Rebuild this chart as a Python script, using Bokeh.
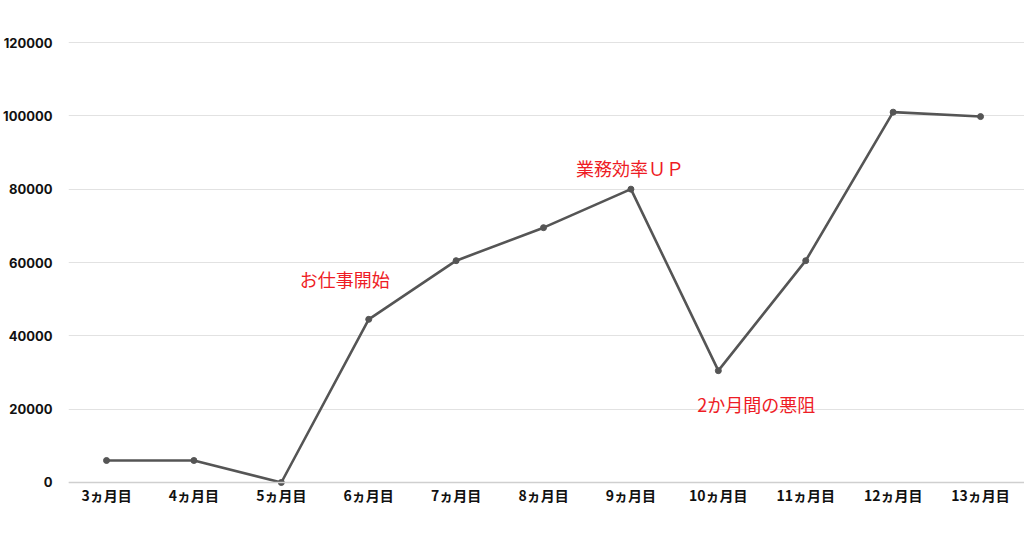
from bokeh.plotting import figure
from bokeh.models import Range1d, FixedTicker, Span, ColumnDataSource
from bokeh.embed import file_html
from bokeh.resources import INLINE
from bokeh.core.properties import value

months = ["3ヵ月目", "4ヵ月目", "5ヵ月目", "6ヵ月目", "7ヵ月目", "8ヵ月目",
          "9ヵ月目", "10ヵ月目", "11ヵ月目", "12ヵ月目", "13ヵ月目"]
values = [6000, 6000, 0, 44500, 60500, 69500, 80000, 30500, 60500, 101000, 99800]
y_ticks = [0, 20000, 40000, 60000, 80000, 100000, 120000]

notes = ["お仕事開始", "業務効率ＵＰ", "2か月間の悪阻"]
note_idx = [3, 6, 7]
note_dx = [-24, -1, 38]
note_dy = [40, 21, -33]

xs = list(range(len(months)))

p = figure(width=1024, height=538, output_backend="svg", toolbar_location=None,
           x_range=Range1d(-0.435, 10.503), y_range=Range1d(-1091, 123273),
           min_border_left=62, min_border_right=0, min_border_top=30, min_border_bottom=52)
p.outline_line_color = None
p.background_fill_color = "white"
p.border_fill_color = "white"

p.xaxis.ticker = FixedTicker(ticks=xs)
p.xaxis.major_label_overrides = {i: m for i, m in enumerate(months)}
p.xaxis.axis_line_color = None
p.xaxis.major_tick_line_color = None
p.xaxis.minor_tick_line_color = None
p.xaxis.major_label_standoff = -8
p.xaxis.major_label_text_font = "Noto Sans CJK JP"
p.xaxis.major_label_text_font_style = "bold"
p.xaxis.major_label_text_font_size = "14px"
p.xaxis.major_label_text_color = "#111111"
p.xgrid.grid_line_color = None

p.yaxis.ticker = FixedTicker(ticks=y_ticks)
p.yaxis.axis_line_color = None
p.yaxis.major_tick_line_color = None
p.yaxis.minor_tick_line_color = None
p.yaxis.major_label_standoff = 10
p.yaxis.major_label_text_font = "Inter"
p.yaxis.major_label_text_font_style = "bold"
p.yaxis.major_label_text_font_size = "13px"
p.yaxis.major_label_text_color = "#111111"
p.yaxis.formatter.use_scientific = False
p.ygrid.grid_line_color = "#e2e2e2"
p.ygrid.grid_line_width = 1

p.add_layout(Span(location=0, dimension="width", line_color="#cfcfcf", line_width=1.5))

src = ColumnDataSource(dict(x=xs, y=values))
p.line("x", "y", source=src, line_color="#555555", line_width=2.6)
p.scatter("x", "y", source=src, size=6, fill_color="#555555", line_color="#555555")

for k in range(len(notes)):
    p.text(x=[note_idx[k]], y=[values[note_idx[k]]], text=[notes[k]],
           x_offset=note_dx[k], y_offset=-note_dy[k],
           text_align="center", text_baseline="middle",
           text_font=value("Noto Sans CJK JP"), text_font_size="18px",
           text_color="#ee1c25")

open("out.html", "w").write(file_html(p, INLINE))
